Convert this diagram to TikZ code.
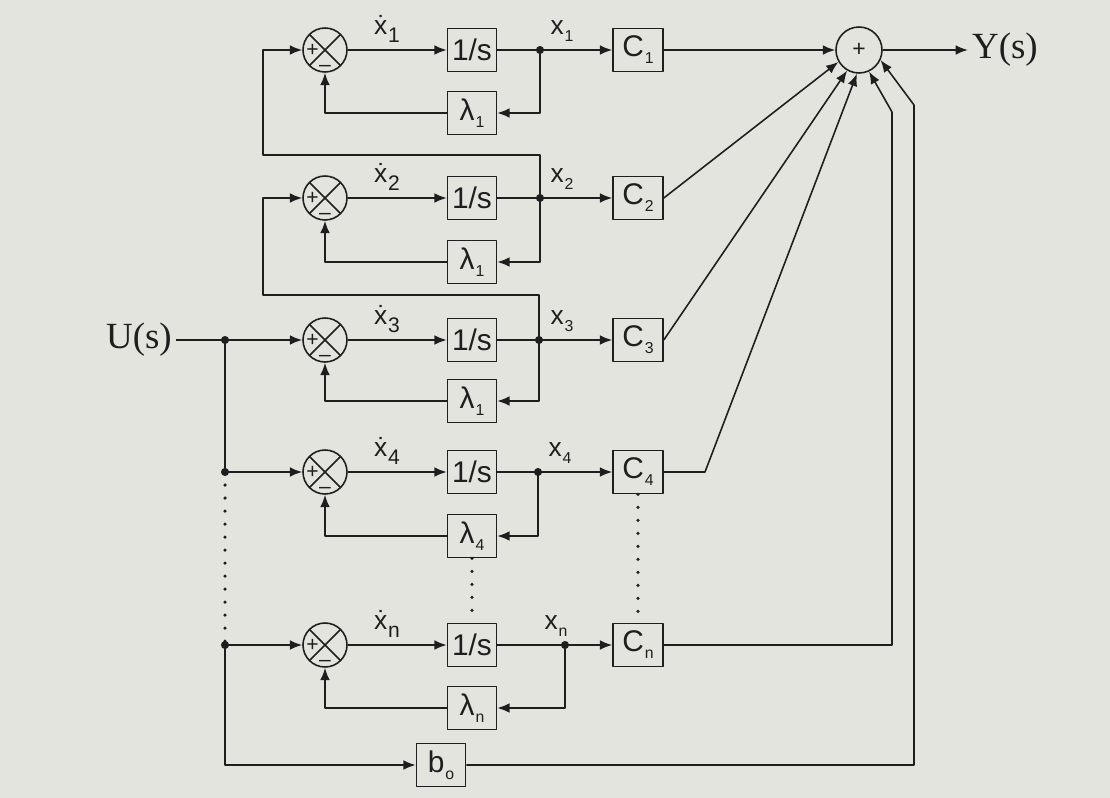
\documentclass[tikz,border=0pt]{standalone}
\usepackage{fontspec}
\setmainfont{Liberation Sans}
\newfontfamily\tnrfont{Liberation Serif}
\usetikzlibrary{arrows.meta}
\definecolor{Paper}{HTML}{E4E4DF}
\definecolor{Ink}{HTML}{1E1E1E}
\newcommand{\smsub}[1]{\kern0.5pt\raisebox{-0.45ex}{\fontsize{9}{9}\selectfont #1}}
\newcommand{\dotx}[1]{\.x\kern0.5pt\raisebox{-0.6ex}{\fontsize{12}{12}\selectfont #1}}
\tikzset{
  blk/.style={draw=Ink,minimum width=0.98cm,minimum height=0.86cm,inner sep=0pt,
    font=\fontsize{17}{17}\selectfont},
  sumx/.style={circle,draw=Ink,minimum size=0.88cm,inner sep=0pt,
    path picture={
      \draw (path picture bounding box.north west) -- (path picture bounding box.south east)
            (path picture bounding box.north east) -- (path picture bounding box.south west);
      \node[inner sep=0pt,font=\fontsize{12}{12}\selectfont]
        at ([xshift=-0.25cm]path picture bounding box.center) {+};
      \node[inner sep=0pt,font=\fontsize{12}{12}\selectfont]
        at ([yshift=-0.37cm]path picture bounding box.center) {--};}},
  sig/.style={-{Latex[length=7pt,width=5.5pt]}},
  dotline/.style={line width=2pt,line cap=round,dash pattern=on 0pt off 7.4pt},
  lbl/.style={inner sep=0pt,font=\fontsize{15}{15}\selectfont},
}

\begin{document}
\begin{tikzpicture}[x=0.02cm,y=-0.02cm,line width=0.9pt,color=Ink,line join=round]
\def\rdot{2.3pt}

% ---- paper ----
\fill[Paper] (0,0) rectangle (1110,798);

% ---- the state rows: summer, integrator, feedback gain, output gain ----
\foreach \r/\y/\ly/\jx/\xl/\l in {1/50/113/540/562/1, 2/198/262/540/562/1,
    3/340/401/539/562/1, 4/472/536/538/560/4, n/645/708/565/556/n}{
  \node[sumx] (sum\r) at (325,\y) {};
  \node[blk] (int\r) at (472,\y) {1/s};
  \node[blk] (lam\r) at (472,\ly) {λ\smsub{\l}};
  \node[blk,minimum width=1cm] (c\r) at (638,\y) {C\smsub{\r}};
  \coordinate (j\r) at (\jx,\y);
  \node[lbl] (xd\r) at (387,\y-21) {\dotx{\r}};
  \node[lbl] (xo\r) at (\xl,\y-19) {x\smsub{\r}};
  \draw[sig] (sum\r) -- (int\r);
  \draw (int\r) -- (j\r);
  \draw[sig] (j\r) -- (c\r);
  \draw[sig] (j\r) |- (lam\r);
  \draw[sig] (lam\r) -| (sum\r);
  \fill (j\r) circle[radius=\rdot];
}

% ---- coupling of rows 1 and 2 to the next state ----
\coordinate (t1) at (263,155);
\coordinate (t2) at (263,295);
\draw[sig] (j2) |- (t1) |- (sum1);
\draw[sig] (j3) |- (t2) |- (sum2);

% ---- input U(s) and its bus ----
\node[inner sep=2pt,font=\tnrfont\fontsize{21}{21}\selectfont] (U) at (139,340) {U(s)};
\foreach \r/\y in {3/340, 4/472, n/645}{
  \coordinate (b\r) at (225,\y);
  \draw[sig] (b\r) -- (sum\r);
  \fill (b\r) circle[radius=\rdot];}
\draw (U) -- (b3) -- (b4);
\draw[dotline] (b4) -- (bn);
\node[blk] (b0) at (441,765) {b\smsub{o}};
\draw[sig] (bn) |- (b0);

% ---- the rows left out ----
\draw[dotline] (lam4.south) -- (intn.north);
\draw[dotline] (c4.south) -- (cn.north);

% ---- output summer ----
\node[circle,draw=Ink,minimum size=0.92cm,inner sep=0pt,font=\fontsize{13}{13}\selectfont]
  (sumY) at (859,50) {+};
\node[inner sep=2pt,font=\tnrfont\fontsize{21}{21}\selectfont] (Y) at (1005,50) {Y(s)};
\draw[sig] (sumY) -- (Y);
\coordinate (k4) at (705,472);
\coordinate (kn1) at (892,645);
\coordinate (kn2) at (892,112);
\coordinate (kb1) at (914,765);
\coordinate (kb2) at (914,105);
\draw[sig] (c1) -- (sumY);
\draw[sig] (c2.east) -- (sumY.210);
\draw[sig] (c3.east) -- (sumY.240);
\draw[sig] (c4.east) -- (k4) -- (sumY.265);
\draw[sig] (cn.east) -- (kn1) -- (kn2) -- (sumY.295);
\draw[sig] (b0.east) -- (kb1) -- (kb2) -- (sumY.335);
\end{tikzpicture}
\end{document}
